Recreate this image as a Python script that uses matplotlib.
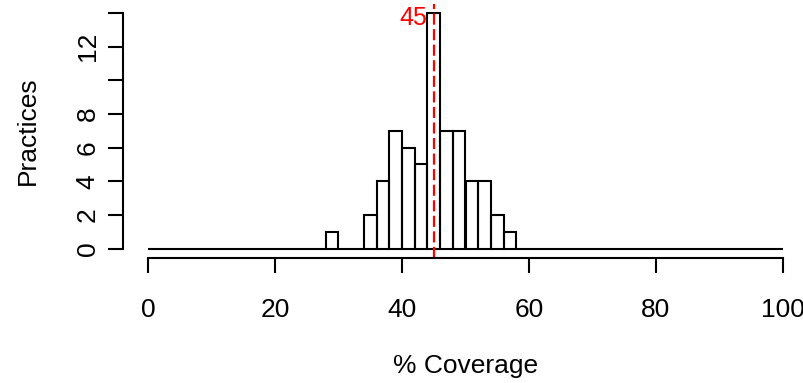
import numpy as np
import matplotlib
matplotlib.use("Agg")
import matplotlib.pyplot as plt

plt.rcParams['font.family'] = ['Liberation Sans', 'DejaVu Sans']

# histogram of coverage, 2-point bins from 0 to 100
bin_width = 2
bin_edges = list(range(0, 101, bin_width))
# counts for the non-empty bins (left edge -> count)
bin_counts = {28: 1, 34: 2, 36: 4, 38: 7, 40: 6, 42: 5, 44: 14,
              46: 7, 48: 7, 50: 4, 52: 4, 54: 2, 56: 1}
mean_cov = 45

yticks = [0, 2, 4, 6, 8, 10, 12, 14]
ytick_labels = ['0', '2', '4', '6', '8', '', '12', '']
xticks = [0, 20, 40, 60, 80, 100]

lefts = bin_edges[:-1]
heights = [bin_counts.get(b, 0) for b in lefts]

fig = plt.figure(figsize=(8.04, 3.83), dpi=100)
# plot region in pixels: x 122.6..808.4, y 3.6..258 (from top)
ax = fig.add_axes([122.6 / 804, 125 / 383, 685.8 / 804, 254.4 / 383])

ax.bar(lefts, heights, width=bin_width, align='edge', fill=False,
       edgecolor='black', linewidth=1.5)

ax.axvline(mean_cov, color='#ff0000', linewidth=1.6, dashes=(5, 2))
ax.annotate(str(mean_cov), xy=(mean_cov, 0.916), xycoords=('data', 'axes fraction'),
            xytext=(-4.5, 0), textcoords='offset points', ha='right', va='baseline',
            color='#ff0000', fontsize=18)

ax.set_xlim(-4, 104)
ax.set_ylim(-0.56, 14.56)

for s in ['top', 'right']:
    ax.spines[s].set_visible(False)
ax.spines['left'].set_bounds(0, 14)
ax.spines['bottom'].set_bounds(0, 100)
for s in ['left', 'bottom']:
    ax.spines[s].set_linewidth(1.5)

ax.set_xticks(xticks)
ax.set_yticks(yticks)
ax.set_yticklabels(ytick_labels, rotation=90, va='center')
ax.tick_params(axis='both', length=10.5, width=1.5, labelsize=19)
ax.tick_params(axis='x', pad=18)
ax.tick_params(axis='y', pad=6)

ax.set_xlabel('% Coverage', fontsize=19, labelpad=23)
ax.set_ylabel('Practices', fontsize=19, labelpad=26)

fig.savefig('out.png', dpi=100)
